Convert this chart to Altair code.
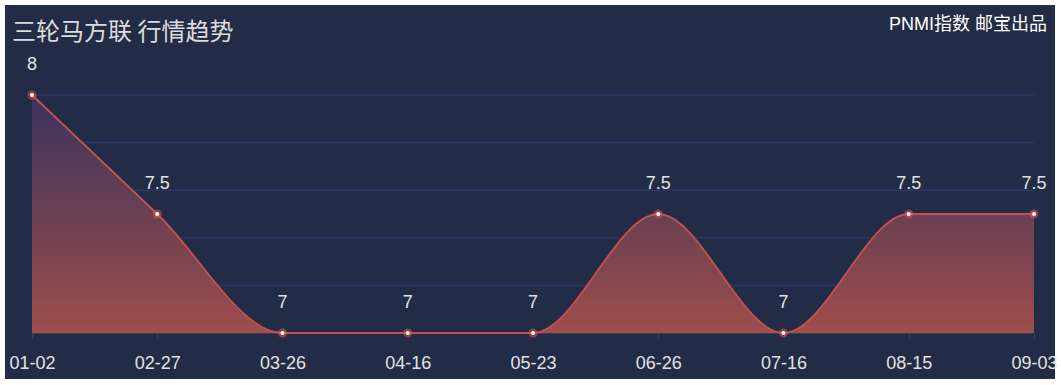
import altair as alt
import pandas as pd

dates = ["01-02", "02-27", "03-26", "04-16", "05-23", "06-26", "07-16", "08-15", "09-03"]
values = [8, 7.5, 7, 7, 7, 7.5, 7, 7.5, 7.5]
grid_values = [7.2, 7.4, 7.6, 7.8, 8.0]
tick_values = [7.0, 7.2, 7.4, 7.6, 7.8, 8.0]
title_text = "三轮马方联 行情趋势"
brand_text = "PNMI指数 邮宝出品"

df = pd.DataFrame({"date": dates, "value": values, "label": [f"{v:g}" for v in values]})
grid_df = pd.DataFrame({"g": grid_values})

FONT = "Liberation Sans, Noto Sans CJK SC, sans-serif"
BG = "#232c47"

xscale = alt.Scale(type="point", range=[27, 1029], padding=0)
yscale = alt.Scale(domain=[7, 8], range=[328, 90])

x_enc = alt.X(
    "date:O",
    sort=dates,
    scale=xscale,
    title=None,
    axis=alt.Axis(
        offset=-46,
        labelAngle=0,
        labelColor="#e2e2e2",
        labelFontSize=18,
        labelFont=FONT,
        labelPadding=16,
        domainColor="#3b3f52",
        tickColor="#3b3f52",
        tickSize=5,
        grid=False,
        labelOverlap=False,
    ),
)
y_enc = alt.Y(
    "value:Q",
    scale=yscale,
    title=None,
    axis=alt.Axis(
        offset=-27,
        values=tick_values,
        labels=False,
        domain=False,
        grid=False,
        tickColor="#1b2035",
        tickSize=5,
    ),
)

base = alt.Chart(df)

grid = alt.Chart(grid_df).mark_rule(color="#2f3b70", strokeWidth=1).encode(
    y=alt.Y("g:Q", scale=yscale, axis=None),
    x=alt.value(27),
    x2=alt.value(1029),
)

area = base.mark_area(
    interpolate="monotone",
    color=alt.Gradient(
        gradient="linear",
        stops=[
            alt.GradientStop(color="#3b345d", offset=0),
            alt.GradientStop(color="#6a4053", offset=0.5),
            alt.GradientStop(color="#9e4d4b", offset=1),
        ],
        x1=0, x2=0, y1=0, y2=1,
    ),
).encode(x=x_enc, y=y_enc, y2=alt.datum(7))

line = base.mark_line(interpolate="monotone", color="#c4524e", strokeWidth=1.8).encode(
    x=x_enc, y=y_enc
)

glow = base.mark_circle(size=80, color="#e5524f", opacity=0.55).encode(x=x_enc, y=y_enc)
dots = base.mark_circle(size=16, color="#ffffff", opacity=1).encode(x=x_enc, y=y_enc)

labels = base.mark_text(
    dy=-30, baseline="middle", fontSize=18, font=FONT, color="#e2e2e2"
).encode(x=x_enc, y=y_enc, text="label:N")

title = alt.Chart(pd.DataFrame({"t": [title_text]})).mark_text(
    align="left", baseline="middle", fontSize=24, font="Noto Sans CJK SC", color="#dcdcdc"
).encode(text="t:N", x=alt.value(7), y=alt.value(28))

brand = alt.Chart(pd.DataFrame({"t": [brand_text]})).mark_text(
    align="right", baseline="middle", fontSize=18, font=FONT, color="#ffffff"
).encode(text="t:N", x=alt.value(1042), y=alt.value(20))

chart = (
    alt.layer(grid, area, line, glow, dots, labels, title, brand)
    .properties(
        width=1050,
        height=374,
        background="white",
        padding={"left": 5, "top": 5, "right": 6, "bottom": 6},
        autosize=alt.AutoSizeParams(type="none"),
    )
    .configure_view(fill=BG, strokeWidth=0)
)

chart.save("out.html", embed_options={"renderer": "svg", "actions": False})
